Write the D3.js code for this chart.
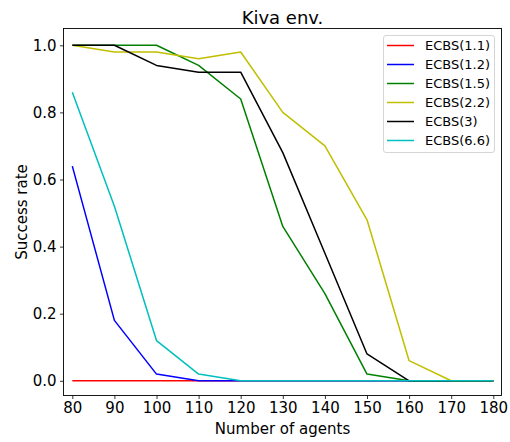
<!DOCTYPE html>
<html><head><meta charset="utf-8">
<script src="https://cdn.jsdelivr.net/npm/d3@7"></script>
<style>body{margin:0;background:#fff}svg{display:block;font-family:"DejaVu Sans",sans-serif}</style>
</head><body><svg id="c" width="510" height="442"></svg>
<script>
const agents = [80, 90, 100, 110, 120, 130, 140, 150, 160, 170, 180];
const seriesNames = ["ECBS(1.1)", "ECBS(1.2)", "ECBS(1.5)", "ECBS(2.2)", "ECBS(3)", "ECBS(6.6)"];
const ecbs11 = [0, 0, 0, 0, 0, 0, 0, 0, 0, 0, 0];
const ecbs12 = [0.64, 0.18, 0.02, 0, 0, 0, 0, 0, 0, 0, 0];
const ecbs15 = [1, 1, 1, 0.94, 0.84, 0.46, 0.26, 0.02, 0, 0, 0];
const ecbs22 = [1, 0.98, 0.98, 0.96, 0.98, 0.8, 0.7, 0.48, 0.06, 0, 0];
const ecbs3 = [1, 1, 0.94, 0.92, 0.92, 0.68, 0.38, 0.08, 0, 0, 0];
const ecbs66 = [0.86, 0.52, 0.12, 0.02, 0, 0, 0, 0, 0, 0, 0];
const seriesValues = [ecbs11, ecbs12, ecbs15, ecbs22, ecbs3, ecbs66];
const colors = ["#ff0000", "#0000ff", "#008000", "#bfbf00", "#000000", "#00bfbf"];
const xTicks = [80, 90, 100, 110, 120, 130, 140, 150, 160, 170, 180];
const yTicks = [0, 0.2, 0.4, 0.6, 0.8, 1.0];

const svg = d3.select("#c");
const L = 63.5, R = 501.5, T = 28.5, B = 395.5;
const x = d3.scaleLinear().domain([80, 180]).range([72.3, 493.3]);
const y = d3.scaleLinear().domain([0, 1]).range([380.8, 45.3]);

// lines
const line = d3.line().x((d, i) => x(agents[i])).y(d => y(d));
seriesValues.forEach((vals, k) => {
  svg.append("path").datum(vals).attr("d", line)
    .attr("fill", "none").attr("stroke", colors[k]).attr("stroke-width", 1.5)
    .attr("stroke-linejoin", "round");
});

// axes
const xAxis = d3.axisBottom(x).tickValues(xTicks).tickSize(3.5).tickPadding(3.5).tickFormat(d3.format("d"));
const gx = svg.append("g").attr("transform", `translate(0,${B})`).call(xAxis);
gx.select(".domain").remove();
gx.selectAll("text").attr("font-size", 15).attr("fill", "#000").attr("font-family", "DejaVu Sans");
gx.selectAll("line").attr("stroke", "#000").attr("stroke-width", 0.8);

const yAxis = d3.axisLeft(y).tickValues(yTicks).tickSize(3.5).tickPadding(3.5).tickFormat(d3.format(".1f"));
const gy = svg.append("g").attr("transform", `translate(${L},0)`).call(yAxis);
gy.select(".domain").remove();
gy.selectAll("text").attr("font-size", 15).attr("fill", "#000").attr("font-family", "DejaVu Sans");
gy.selectAll("line").attr("stroke", "#000").attr("stroke-width", 0.8);

// frame
svg.append("rect").attr("x", L).attr("y", T).attr("width", R - L).attr("height", B - T)
  .attr("fill", "none").attr("stroke", "#000").attr("stroke-width", 0.9);

// labels
svg.append("text").attr("x", (L + R) / 2).attr("y", 24).attr("text-anchor", "middle")
  .attr("font-size", 18).text("Kiva env.");
svg.append("text").attr("x", (L + R) / 2).attr("y", 434).attr("text-anchor", "middle")
  .attr("font-size", 15).text("Number of agents");
svg.append("text").attr("transform", `translate(27,${(T + B) / 2}) rotate(-90)`)
  .attr("text-anchor", "middle").attr("font-size", 15).text("Success rate");

// legend
const lg = svg.append("g");
lg.append("rect").attr("x", 383.5).attr("y", 35.5).attr("width", 111).attr("height", 117)
  .attr("rx", 2.5).attr("fill", "#fff").attr("fill-opacity", 0.8).attr("stroke", "#d0d0d0").attr("stroke-width", 0.9);
seriesNames.forEach((name, k) => {
  const yy = 45.5 + k * 19;
  lg.append("line").attr("x1", 387).attr("x2", 414).attr("y1", yy).attr("y2", yy)
    .attr("stroke", colors[k]).attr("stroke-width", 1.5);
  lg.append("text").attr("x", 425).attr("y", yy + 4.6).attr("font-size", 13).text(name);
});
</script>
</body></html>
